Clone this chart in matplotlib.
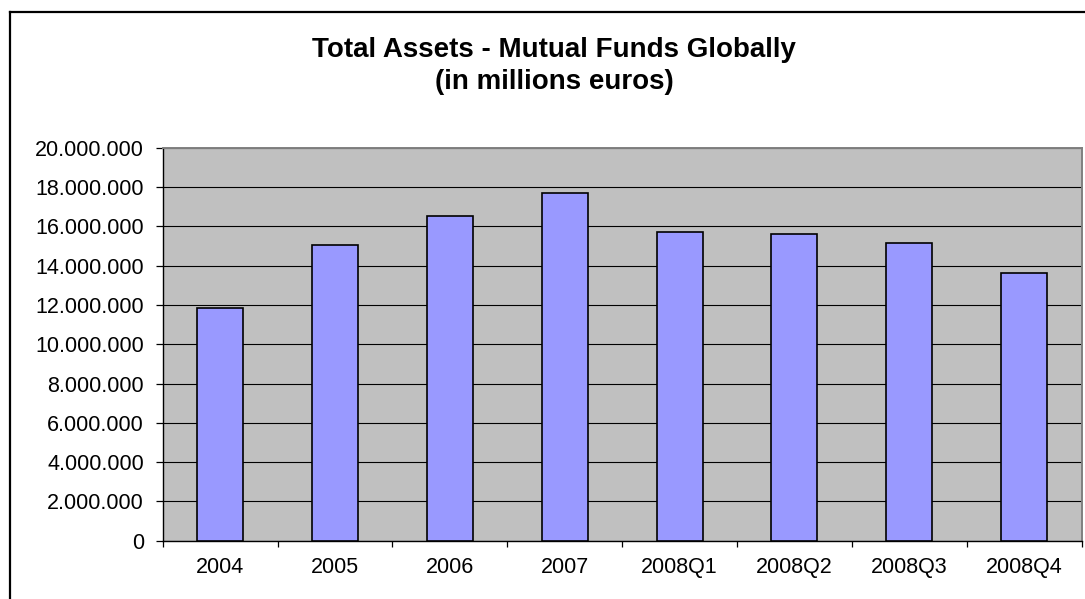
import matplotlib
matplotlib.use("Agg")
import matplotlib.pyplot as plt
from matplotlib.lines import Line2D
from matplotlib.ticker import FuncFormatter, FixedLocator
import numpy as np

plt.rcParams["font.family"] = ["Liberation Sans", "DejaVu Sans"]

# Total assets of mutual funds worldwide, millions of euros
periods = ["2004", "2005", "2006", "2007", "2008Q1", "2008Q2", "2008Q3", "2008Q4"]
total_assets = [11850000, 15050000, 16510000, 17710000, 15690000, 15610000, 15130000, 13610000]

y_ticks = list(range(0, 20000001, 2000000))


def dotted_thousands(v, _pos):
    return f"{int(round(v)):,}".replace(",", ".")


fig = plt.figure(figsize=(10.85, 5.99), dpi=100)
fig.patch.set_facecolor("white")

ax = fig.add_axes([0.15, 0.0973, 0.8468, 0.6561])
ax.set_facecolor("#C0C0C0")

x = np.arange(len(periods))
ax.bar(x, total_assets, width=0.4, color="#9999FF", edgecolor="black",
       linewidth=1.2, zorder=3)

ax.set_xlim(-0.5, len(periods) - 0.5)
ax.set_ylim(0, 20000000)

ax.yaxis.set_major_locator(FixedLocator(y_ticks))
ax.yaxis.set_major_formatter(FuncFormatter(dotted_thousands))
ax.grid(True, axis="y", color="black", linewidth=0.8, zorder=1)
ax.set_axisbelow(True)

# ticks between categories, labels centred under bars
ax.xaxis.set_major_locator(FixedLocator(np.arange(len(periods) + 1) - 0.5))
ax.xaxis.set_major_formatter(FuncFormatter(lambda v, p: ""))
ax.xaxis.set_minor_locator(FixedLocator(x))
ax.set_xticklabels(periods, minor=True)
ax.tick_params(axis="x", which="major", length=4.5, width=0.9, direction="out")
ax.tick_params(axis="x", which="minor", length=0, pad=12, labelsize=15.5)
ax.tick_params(axis="y", length=5, width=0.9, pad=8.5, labelsize=15.5)

for side in ("top", "right"):
    ax.spines[side].set_color("#808080")
    ax.spines[side].set_linewidth(1.4)
for side in ("left", "bottom"):
    ax.spines[side].set_color("black")
    ax.spines[side].set_linewidth(1.0)

# chart frame (left and top edges)
fx = 9.5 / 1085
fy = 1 - 12 / 599
fig.add_artist(Line2D([fx, fx], [0, fy], color="black", linewidth=1.6,
                      transform=fig.transFigure))
fig.add_artist(Line2D([fx, 1.0], [fy, fy], color="black", linewidth=1.6,
                      transform=fig.transFigure))

tx = 554 / 1085
fig.text(tx, 1 - 57 / 599, "Total Assets - Mutual Funds Globally",
         ha="center", va="baseline", fontsize=20, fontweight="bold")
fig.text(tx, 1 - 89 / 599, "(in millions euros)",
         ha="center", va="baseline", fontsize=20, fontweight="bold")

fig.savefig("out.png", dpi=100, facecolor="white")
